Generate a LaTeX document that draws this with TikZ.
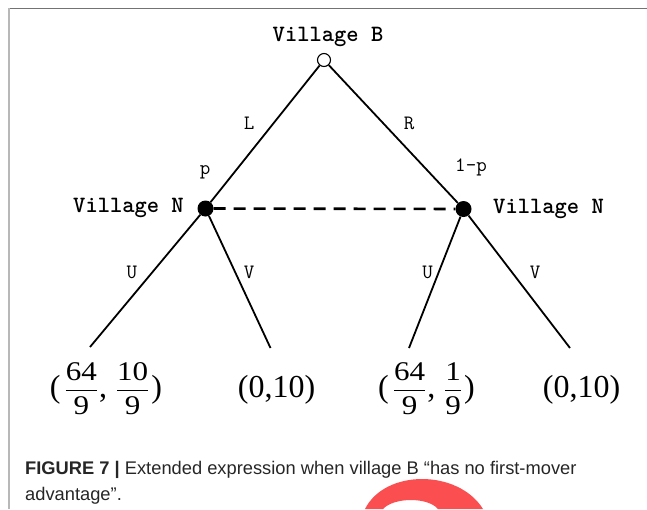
\documentclass[tikz,border=0pt]{standalone}
\usepackage{fontspec}
\usepackage{amsmath}
\setmainfont{Liberation Serif}
\newfontfamily\fracfont[FakeStretch=1.15]{Liberation Serif}
\newfontfamily\captionfont{Liberation Sans}
\definecolor{logored}{RGB}{250,78,80}
\newcommand{\payfrac}[2]{{\fontsize{27}{27}\selectfont$\dfrac{\text{\fracfont #1}}{\text{\fracfont #2}}$}}

\begin{document}
\begin{tikzpicture}[x=1pt, y=-1pt,
        chance/.style={circle, draw, line width=1.1pt, inner sep=0pt, minimum size=13pt},
        decision/.style={circle, fill, inner sep=0pt, minimum size=16pt},
        branch/.style={line width=1.8pt},
        infoset/.style={line width=2.6pt, dash pattern=on 12pt off 8pt},
        player/.style={font=\ttfamily\bfseries\fontsize{23.4}{24}\selectfont, anchor=base},
        move/.style={font=\ttfamily\fontsize{20.4}{21}\selectfont, anchor=base},
        payoff/.style={font=\fontsize{32}{32}\selectfont, anchor=base, inner sep=0pt}]
        \useasboundingbox (0,0) rectangle (647,509);
        \draw[black!55, line width=1.2pt] (8,8.5) -- (647,8.5);
        \draw[black!28, line width=1.8pt] (9,8) -- (9,509);

        \node[chance] (vB) at (324,60) {};
        \node[decision] (nL) at (205.5,208.5) {};
        \node[decision] (nR) at (463.5,209) {};
        \node[player] (tB) at (328,41) {Village B};
        \node[player] (tL) at (128.5,212) {Village N};
        \node[player] (tR) at (548.5,213) {Village N};

        \node[move] (mL) at (249,129) {L};
        \node[move] (mR) at (409,129) {R};
        \node[move] (mp) at (205,174) {p};
        \node[move] (m1p) at (471,171) {1-p};
        \node[move] (mLU) at (132,278) {U};
        \node[move] (mLV) at (249,278) {V};
        \node[move] (mRU) at (427.5,278) {U};
        \node[move] (mRV) at (535,278) {V};

        \coordinate (endLU) at (90,347);
        \coordinate (endLV) at (270.5,348);
        \coordinate (endRU) at (409,348);
        \coordinate (endRV) at (570,348);

        \node[payoff] (payLU) at (106,397) {(\kern4pt\payfrac{64}{9}\kern1pt,\kern9pt\payfrac{10}{9}\kern2pt)};
        \node[payoff] (payLV) at (276.5,397) {(0,10)};
        \node[payoff] (payRU) at (426.5,397) {(\kern4pt\payfrac{64}{9}\kern1pt,\kern9pt\payfrac{1}{9}\kern2pt)};
        \node[payoff] (payRV) at (581.5,397) {(0,10)};

        \draw[branch] (vB) -- (nL);
        \draw[branch] (vB) -- (nR);
        \draw[infoset] (nL) -- (nR);
        \draw[branch] (nL) -- (endLU);
        \draw[branch] (nL) -- (endLV);
        \draw[branch] (nR) -- (endRU);
        \draw[branch] (nR) -- (endRV);

        \node[anchor=base west, align=left, inner sep=0pt, text=black!85,
              font=\captionfont\fontsize{18.3}{26}\selectfont] (cap) at (25,500)
              {\textbf{FIGURE 7 |} Extended expression when village B “has no first-mover\\advantage”.};

        \fill[logored] (365,509) .. controls (385,469) and (458,469) .. (483,509)
              -- (438,509) .. controls (428,497) and (394,497) .. (383,509) -- cycle;
\end{tikzpicture}
\end{document}
